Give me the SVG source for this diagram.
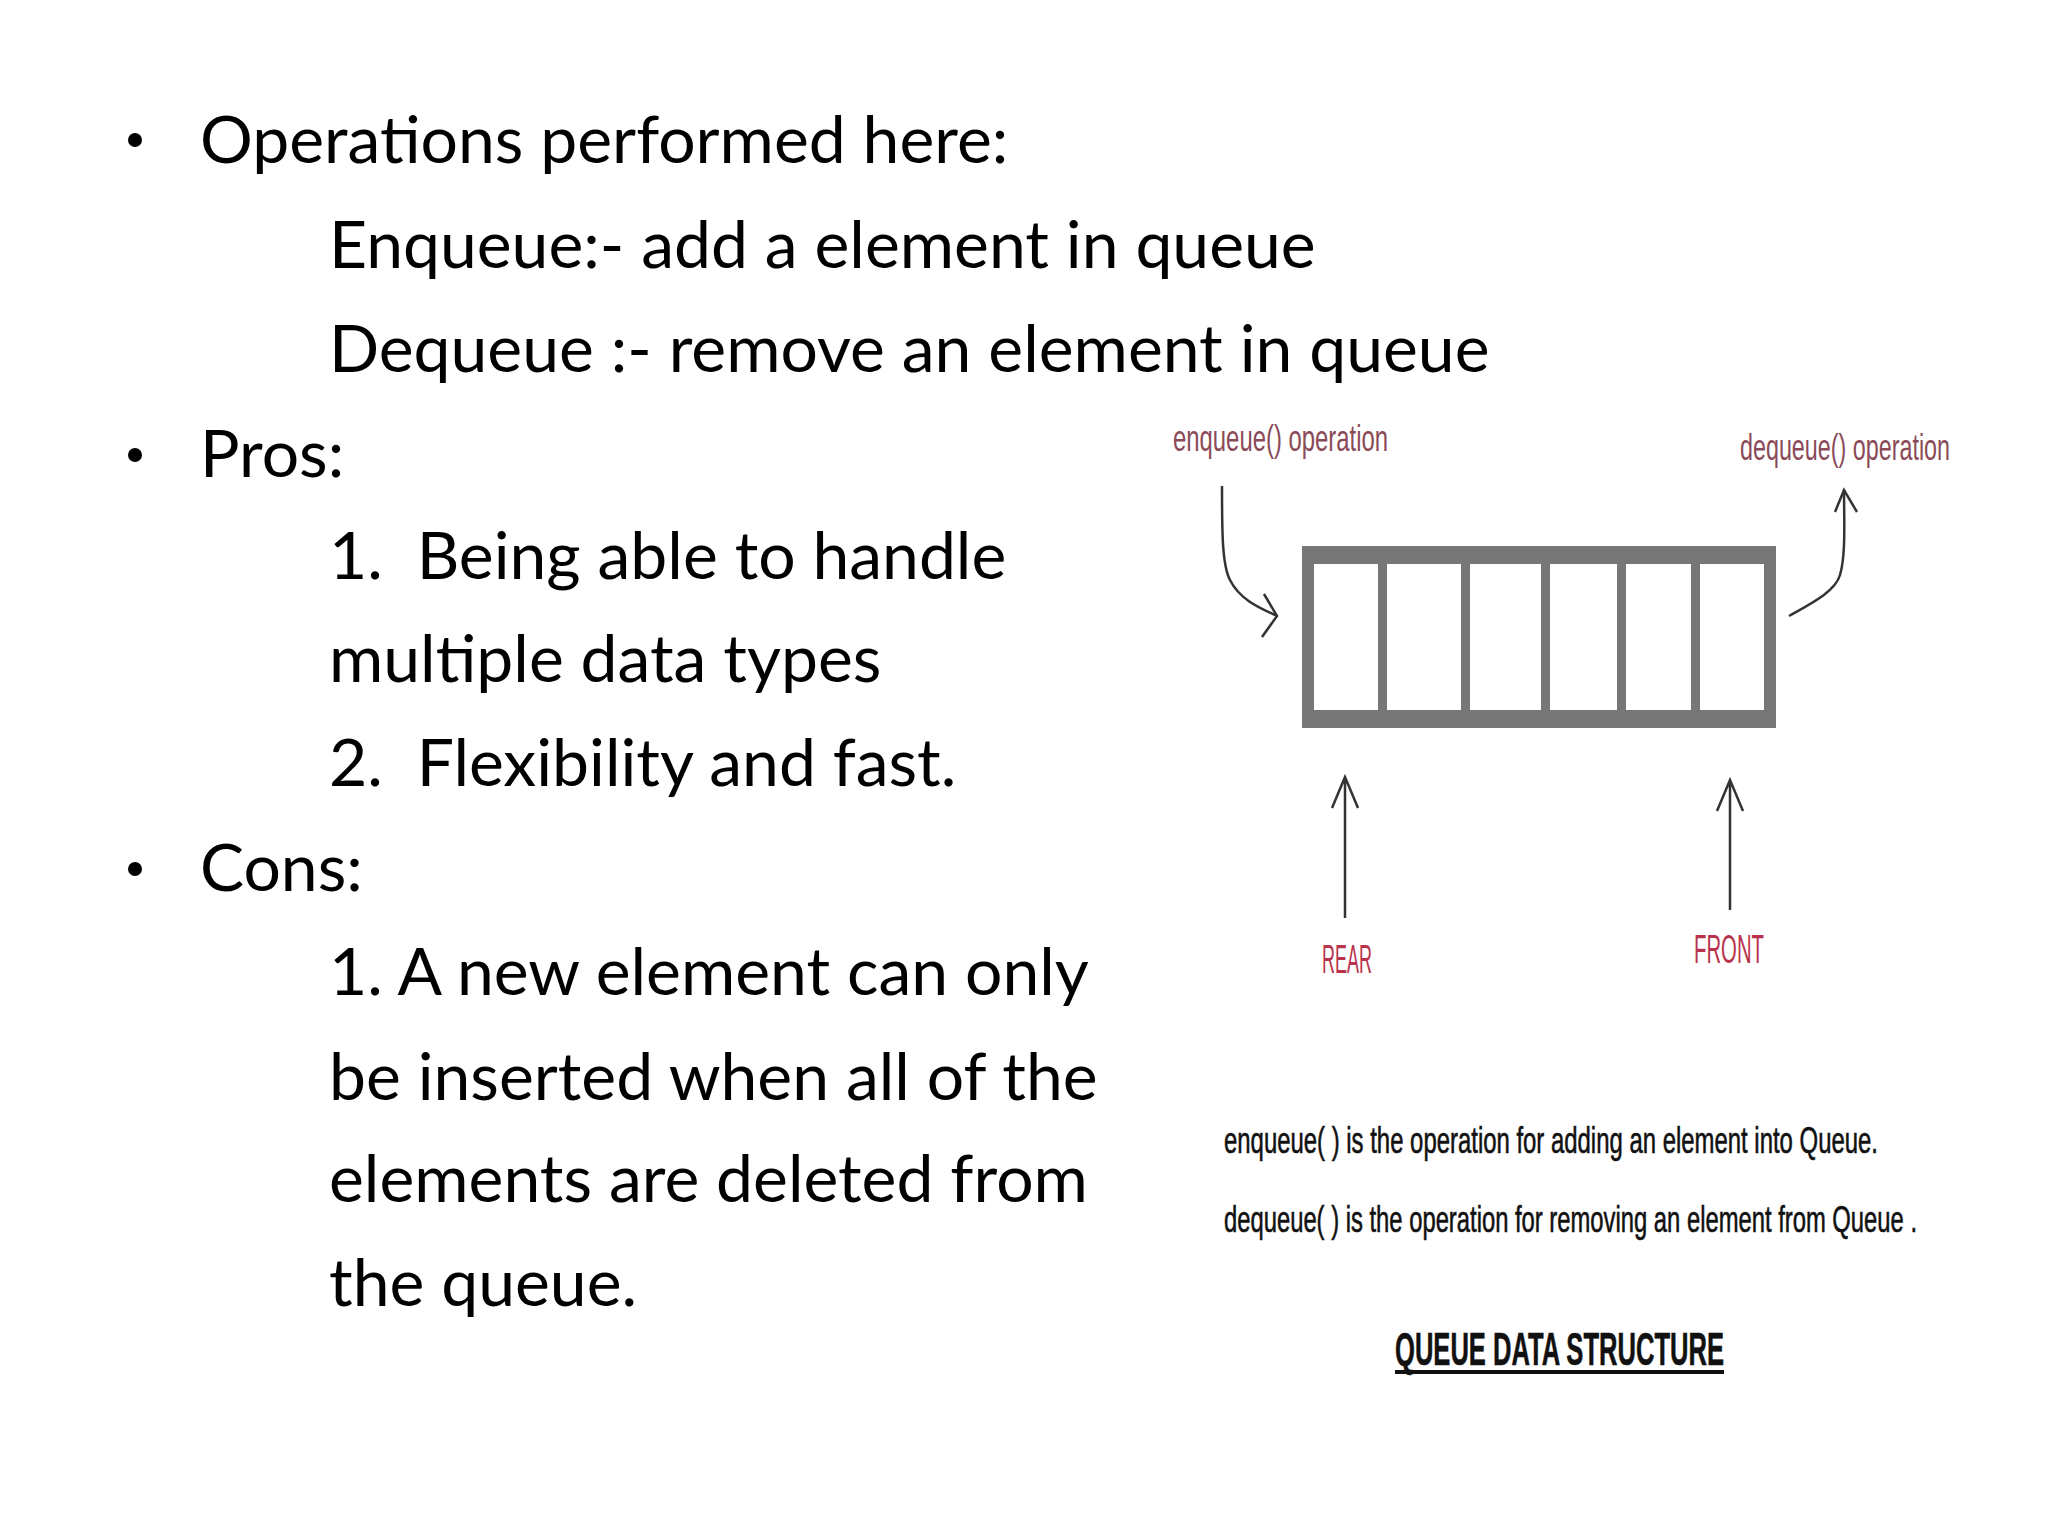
<svg xmlns="http://www.w3.org/2000/svg" width="2048" height="1534" viewBox="0 0 2048 1534">
<style>
.t{font-family:Lato,"Open Sans",sans-serif;font-size:66px;fill:#000}
.lab{font-family:"Liberation Sans Narrow","Liberation Sans",sans-serif;font-size:36px;fill:#8a4a58}
.lbl{font-family:"Liberation Sans Narrow","Liberation Sans",sans-serif;font-size:40px;fill:#b8344c}
.cap{font-family:"Liberation Sans Narrow","Liberation Sans",sans-serif;font-size:36px;fill:#111;stroke:#111;stroke-width:0.6}
.ln{fill:none;stroke:#333;stroke-width:2.5}
</style>
<rect width="2048" height="1534" fill="#fff"/>
<g id="text">
<circle cx="135" cy="140" r="7"/><circle cx="135" cy="455" r="7"/><circle cx="135" cy="869" r="7"/>
<text class="t" x="200" y="163">Operations performed here:</text>
<text class="t" x="329" y="268">Enqueue:- add a element in queue</text>
<text class="t" x="329" y="372">Dequeue :- remove an element in queue</text>
<text class="t" x="200" y="477">Pros:</text>
<text class="t" x="329" y="579" xml:space="preserve">1.  Being able to handle</text>
<text class="t" x="329" y="682">multiple data types</text>
<text class="t" x="329" y="786" xml:space="preserve">2.  Flexibility and fast.</text>
<text class="t" x="200" y="891">Cons:</text>
<text class="t" x="329" y="995">1. A new element can only</text>
<text class="t" x="329" y="1100">be inserted when all of the</text>
<text class="t" x="329" y="1202">elements are deleted from</text>
<text class="t" x="329" y="1306">the queue.</text>
</g>
<g id="queue">
<rect x="1308" y="555" width="462" height="165" fill="none" stroke="#777" stroke-width="12"/>
<rect x="1302" y="546" width="474" height="18" fill="#777"/>
<rect x="1302" y="710" width="474" height="18" fill="#777"/>
<g fill="#777"><rect x="1378" y="546" width="9" height="180"/><rect x="1461" y="546" width="9" height="180"/><rect x="1541" y="546" width="9" height="180"/><rect x="1617" y="546" width="9" height="180"/><rect x="1691" y="546" width="9" height="180"/></g>
</g>
<g id="labels">
<text class="lab" x="1173" y="451" textLength="215" lengthAdjust="spacingAndGlyphs">enqueue() operation</text>
<text class="lab" x="1740" y="460" textLength="210" lengthAdjust="spacingAndGlyphs">dequeue() operation</text>
<text class="lbl" x="1322" y="973" textLength="50" lengthAdjust="spacingAndGlyphs">REAR</text>
<text class="lbl" x="1694" y="963" textLength="70" lengthAdjust="spacingAndGlyphs">FRONT</text>
<text class="cap" x="1224" y="1153" textLength="654" lengthAdjust="spacingAndGlyphs">enqueue( ) is the operation for adding an element into Queue.</text>
<text class="cap" x="1224" y="1232" textLength="693" lengthAdjust="spacingAndGlyphs">dequeue( ) is the operation for removing an element from Queue .</text>
<text class="cap" x="1395" y="1365" textLength="329" lengthAdjust="spacingAndGlyphs" style="font-size:46px;font-weight:bold">QUEUE DATA STRUCTURE</text>
<rect x="1395" y="1370" width="329" height="4" fill="#111"/>
</g>
<g id="connectors">
<path class="ln" d="M1222 486 C1222 530 1222 565 1230 580 C1240 600 1260 608 1277 616"/>
<path class="ln" d="M1264 594 L1277 616 L1262 637"/>
<path class="ln" d="M1789 616 C1810 604 1835 592 1840 575 C1846 555 1844 520 1844 490"/>
<path class="ln" d="M1835 512 L1844 490 L1857 512"/>
<path class="ln" d="M1345 918 L1345 777 M1332 808 L1345 777 L1358 808"/>
<path class="ln" d="M1730 910 L1730 780 M1717 811 L1730 780 L1743 811"/>
</g>
</svg>
